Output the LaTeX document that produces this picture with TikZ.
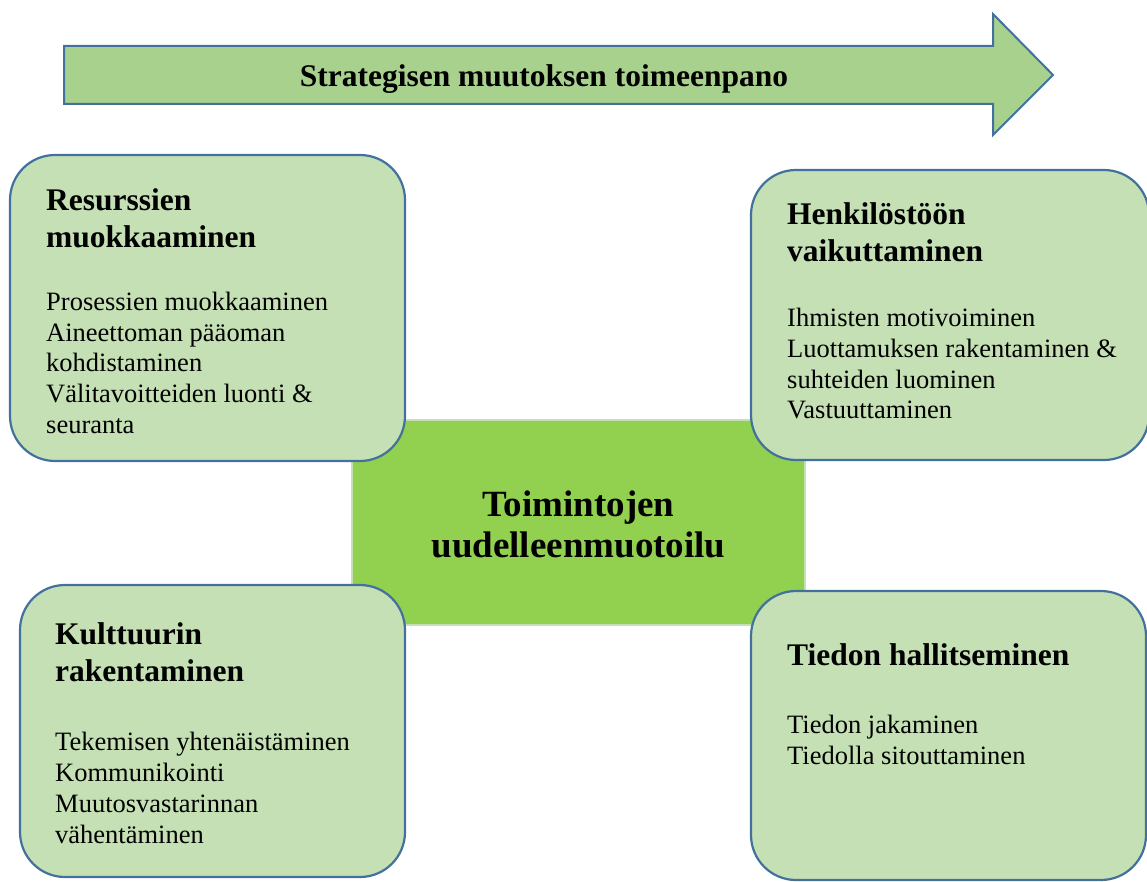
\documentclass[tikz,border=0pt]{standalone}
\usepackage{fontspec}
\setmainfont{Liberation Serif}
\definecolor{arrowfill}{HTML}{A9D18E}
\definecolor{edgeblue}{HTML}{41719C}
\definecolor{boxfill}{HTML}{C5E0B4}
\definecolor{corefill}{HTML}{92D050}
\begin{document}
\begin{tikzpicture}[x=1pt,y=-1pt,
  areabox/.style={draw=edgeblue, line width=2.2pt, fill=boxfill, rounded corners=45pt},
  corebox/.style={draw=boxfill, line width=2pt, fill=corefill},
  heading/.style={font=\fontsize{31.5}{37}\selectfont\bfseries, inner sep=0pt, anchor=base west},
  itemtext/.style={font=\fontsize{26.5}{31}\selectfont, inner sep=0pt, anchor=base west},
  coretext/.style={font=\fontsize{37}{44}\selectfont\bfseries, inner sep=0pt, anchor=base},
]
\useasboundingbox (0,0) rectangle (1147,882);

% direction arrow along the top
\draw[fill=arrowfill, draw=edgeblue, line width=2pt, line join=miter]
  (64,46) -- (993,46) -- (993,14) -- (1053,75) -- (993,135) -- (993,104) -- (64,104) -- cycle;
\node[heading, anchor=base] (arrowlabel) at (544,87) {Strategisen muutoksen toimeenpano};

% central box
\draw[corebox] (352,420) rectangle (805,625);
\node[coretext] (core1) at (578.5,516) {Toimintojen};
\node[coretext] (core2) at (578.5,557) {uudelleenmuotoilu};

% four surrounding areas
\draw[areabox] (10,155) rectangle (405,461);
\draw[areabox] (751,170) rectangle (1149,460);
\draw[areabox] (20,585) rectangle (405,877);
\draw[areabox] (751,591) rectangle (1146,880);

% top left
\node[heading] (tlh1) at (46,211) {Resurssien};
\node[heading] (tlh2) at (46,248) {muokkaaminen};
\foreach \t/\y [count=\i] in {Prosessien muokkaaminen/310, Aineettoman pääoman/341,
  kohdistaminen/371, Välitavoitteiden luonti \&/402, seuranta/433}
  \node[itemtext] (tl\i) at (46,\y) {\t};

% top right
\node[heading] (trh1) at (787,225) {Henkilöstöön};
\node[heading] (trh2) at (787,262) {vaikuttaminen};
\foreach \t/\y [count=\i] in {Ihmisten motivoiminen/326, Luottamuksen rakentaminen \&/357,
  suhteiden luominen/388, Vastuuttaminen/418}
  \node[itemtext] (tr\i) at (787,\y) {\t};

% bottom left
\node[heading] (blh1) at (55,644) {Kulttuurin};
\node[heading] (blh2) at (55,681) {rakentaminen};
\foreach \t/\y [count=\i] in {Tekemisen yhtenäistäminen/750, Kommunikointi/781,
  Muutosvastarinnan/812, vähentäminen/843}
  \node[itemtext] (bl\i) at (55,\y) {\t};

% bottom right
\node[heading] (brh1) at (787,665) {Tiedon hallitseminen};
\foreach \t/\y [count=\i] in {Tiedon jakaminen/733, Tiedolla sitouttaminen/764}
  \node[itemtext] (br\i) at (787,\y) {\t};
\end{tikzpicture}
\end{document}
